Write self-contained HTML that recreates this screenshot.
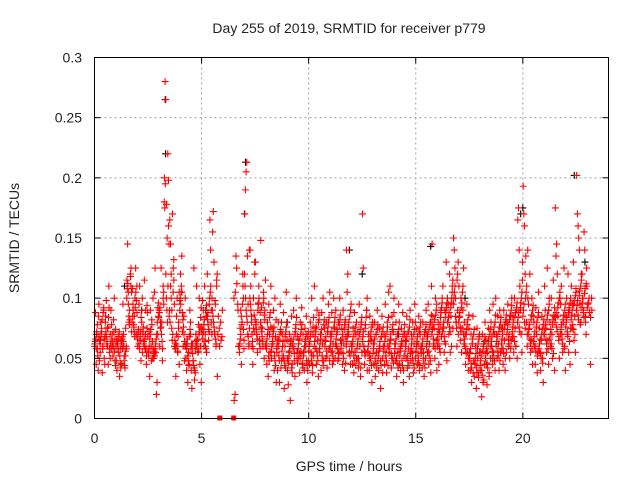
<!DOCTYPE html>
<html><head><meta charset="utf-8">
<style>
body{margin:0;background:#fff;}
svg{display:block;font-family:"Liberation Sans",sans-serif;}
</style></head>
<body>
<svg id="chart" width="640" height="480" viewBox="0 0 640 480">
<rect width="640" height="480" fill="#fff"/>
<text x="349" y="33" font-size="14" text-anchor="middle" fill="#222">Day 255 of 2019, SRMTID for receiver p779</text>
<text x="349" y="471" font-size="14" text-anchor="middle" fill="#222">GPS time / hours</text>
<text transform="translate(19,238) rotate(-90)" font-size="14" text-anchor="middle" fill="#222">SRMTID / TECUs</text>
<g id="grid"></g>
<g id="black"></g>
<g id="red"></g>
<rect x="94.5" y="57.5" width="514" height="361" fill="none" stroke="#000" stroke-width="1"/>
<g id="ticks"></g>
</svg>
<script>
const xTicks=[0,5,10,15,20];
const yTicks=[0,0.05,0.1,0.15,0.2,0.25,0.3];
const yTickLabels=["0","0.05","0.1","0.15","0.2","0.25","0.3"];
const binHours=0.25;
const redBins=[
[62,88,45,70,58,40,95,65],[55,80,72,38,60,90,50,68],[85,98,62,75,45,110,58,70],[90,78,60,52,82,100,66,74],
[48,40,62,55,70,35,58,65],[45,68,95,60,52,42,75,58],[115,145,105,80,90,120,110,72],[108,95,78,85,100,125,70,88],
[60,72,95,110,65,48,80,55],[70,62,115,58,90,45,75,68],[55,72,35,90,60,82,50,100],[50,105,125,55,20,30,70,85],
[90,60,75,125,80,48,110,95],[200,280,265,178,150,220,198,85],[165,145,120,90,170,105,132,60],[60,35,85,100,55,75,45,90],
[120,105,135,72,60,85,48,100],[50,40,62,30,55,45,90,70],[40,25,62,48,125,32,58,70],[110,65,55,78,100,45,60,30],
[75,98,90,60,110,70,85,55],[120,88,65,72,165,140,80,100],[155,172,130,70,95,60,110,35],[85,60,65,90],
[],[],[15,20,135,112,95,60],[55,75,90,45,80,120,100,65],
[170,190,205,213,135,95,62,75],[140,110,85,60,45,100,72,120],[130,80,70,55,95,110,65,88],[148,92,75,60,105,50,82,115],
[60,45,80,35,95,70,55,110],[50,75,62,90,40,100,68,30],[55,40,80,65,30,95,72,48],[70,50,88,25,60,42,105,65],
[40,28,55,70,15,62,85,45],[60,90,48,35,75,100,55,68],[50,65,38,80,55,92,45,70],[55,40,75,60,85,30,68,48],
[62,45,80,55,100,38,70,52],[110,75,58,45,90,65,35,82],[55,70,40,88,62,100,48,75],[65,50,80,42,72,95,58,105],
[70,55,88,45,62,100,75,50],[90,60,72,48,80,55,100,65],[55,75,45,90,62,40,80,68],[140,105,120,70,55,85,45,62],
[60,45,75,38,88,55,70,50],[50,72,42,95,60,35,80,55],[170,125,60,45,75,55,90,40],[55,70,40,85,50,65,30,78],
[62,45,80,35,70,55,90,48],[40,75,58,25,68,85,50,60],[70,45,95,55,38,80,60,105],[55,110,65,42,85,50,72,100],
[62,48,80,35,70,55,95,45],[58,40,75,62,88,30,52,70],[65,50,85,42,72,58,35,90],[48,70,55,80,38,62,95,50],
[55,75,45,62,85,40,70,58],[60,42,80,55,35,72,50,90],[70,55,95,45,62,80,38,110],[145,85,60,75,50,100,65,40],
[60,80,45,72,55,90,68,100],[110,75,55,90,62,130,48,80],[95,70,120,55,85,60,105,75],[150,140,125,100,80,60,90,70],
[110,85,65,100,55,75,90,125],[80,60,45,70,95,55,40,75],[55,40,70,30,62,85,48,35],[45,60,25,75,50,38,68,55],
[40,55,18,70,30,62,45,80],[65,45,28,55,75,35,90,50],[80,60,45,95,55,70,40,100],[70,50,85,62,40,90,55,75],
[58,75,45,90,65,40,80,55],[80,95,60,70,50,85,65,100],[68,85,55,100,75,60,90,50],[165,175,140,110,90,70,55,130],
[193,170,160,120,135,80,60,100],[95,75,120,55,65,100,45,85],[80,60,45,92,70,38,55,105],[75,55,40,65,85,50,30,70],
[110,90,75,55,125,65,45,100],[80,60,100,70,50,115,85,40],[175,135,145,120,85,65,50,100],[95,110,70,55,80,125,60,40],
[85,100,70,120,55,90,45,75],[110,75,95,130,65,85,55,105],[202,170,160,150,140,95,80,115],[120,100,90,155,140,85,70,110],
[95,100,45,90]
];
const redBins2=[
[60,64,66,58,72,78,52,85,68,48],[62,65,70,75,82,58,88,92,66,45],[80,72,68,64,60,76,84,92,55,50],[62,58,66,70,64,60,72,56,48,44],
[60,64,66,62,58,68,72,52,46,42],[62,66,58,64,70,48,44,52,56,60],[100,108,112,95,85,78,82,118,125,105],[80,85,90,76,72,68,92,105,98,110],
[66,70,74,62,58,68,72,84,90,100],[72,76,64,60,66,70,58,52,94,88],[56,52,60,66,70,74,48,78,64,58],[54,56,52,58,62,66,70,80,92,96],
[84,88,92,80,76,70,64,58,100,105],[180,175,195,120,100,90,80,110,160,145],[90,80,110,100,75,65,70,125,115,95],[65,58,62,70,60,56,68,80,105,98],
[100,95,110,105,88,82,76,70,64,60],[60,62,58,66,52,48,44,68,74,80],[58,62,60,54,48,44,42,40,38,64],[60,62,66,58,56,70,72,76,84,92],
[74,70,66,72,78,82,64,60,58,94],[85,82,78,74,95,100,105,110,90,70],[90,85,80,76,72,98,66,62,115,120],[70,75,80,68],
[],[],[100,105,125,90],[60,62,66,70,85,78,95,110,74,58],
[120,110,100,90,85,80,70,68,60,140],[100,95,90,80,70,64,58,75,86,130],[82,78,74,70,66,90,96,100,62,58],[80,76,72,68,64,96,100,86,90,60],
[62,58,66,70,74,52,48,84,88,76],[56,60,64,68,72,76,52,48,44,82],[58,62,66,60,52,48,70,74,42,80],[56,60,64,52,48,44,68,72,76,80],
[50,48,46,52,56,60,64,66,42,38],[62,66,58,54,70,72,78,84,50,46],[58,62,66,54,50,70,74,78,46,42],[52,56,60,64,66,70,48,44,40,72],
[56,60,64,68,72,48,52,44,76,84],[60,64,68,72,76,56,52,48,80,86],[58,62,66,70,74,52,48,44,78,82],[60,64,68,56,52,72,76,80,84,48],
[60,64,68,72,56,52,48,76,80,84],[62,66,70,74,58,54,50,78,82,86],[58,62,66,70,54,50,74,78,82,46],[60,64,68,72,76,80,56,52,90,95],
[56,60,64,68,52,48,72,76,44,80],[58,62,66,50,46,70,74,42,78,84],[64,68,72,60,56,52,78,84,90,100],[56,60,64,52,48,68,72,44,76,80],
[54,58,62,66,50,46,70,42,74,78],[52,56,60,64,48,44,68,72,38,76],[56,60,64,68,52,48,72,76,44,84],[58,62,66,70,54,50,74,78,46,88],
[54,58,62,66,50,46,70,42,74,80],[52,56,60,64,48,44,68,40,72,78],[56,60,64,68,52,48,72,44,76,82],[54,58,62,66,50,46,70,42,74,80],
[56,60,64,68,52,48,72,44,76,80],[54,58,62,66,50,46,70,42,74,78],[60,64,68,72,56,52,76,48,80,86],[70,74,78,66,62,82,58,86,90,95],
[66,70,74,62,58,78,84,88,92,96],[72,76,80,68,64,84,88,92,96,100],[80,84,88,76,72,92,96,100,110,115],[95,100,105,110,85,80,75,115,120,130],
[80,84,88,76,72,92,96,105,110,70],[62,66,70,58,54,74,78,82,50,86],[50,54,58,46,42,62,66,38,70,74],[46,50,54,42,38,58,62,34,66,70],
[44,48,52,40,36,56,60,32,64,68],[50,54,58,46,42,62,66,38,70,74],[60,64,68,56,52,72,76,48,80,86],[60,64,68,56,52,72,76,48,80,84],
[62,66,70,58,54,74,78,50,82,86],[70,74,78,66,62,82,86,58,90,94],[72,76,80,68,64,84,88,60,92,96],[80,84,88,76,72,92,96,100,105,115],
[85,90,95,80,75,100,105,110,70,140],[70,74,78,66,62,82,86,58,90,94],[64,68,72,60,56,76,80,52,84,88],[58,62,66,54,50,70,74,46,78,82],
[70,74,78,66,62,82,86,58,90,95],[66,70,74,62,58,78,82,54,86,92],[80,84,88,76,72,92,96,68,100,105],[70,74,78,66,62,82,86,58,90,95],
[76,80,84,72,68,88,92,64,96,100],[82,86,90,78,74,94,98,70,102,108],[90,94,98,86,82,102,106,78,110,120],[92,96,100,88,84,104,108,80,112,125],
[92,96,88,84,100]
];
const blackT=[3.3,3.32,7.05,7.0,22.4,20.0,19.9,15.7,11.9,2.2,0.1,9.0,12.5,17.3,5.2,1.4,14.2,18.6,21.2,22.9];
const blackY=[0.265,0.22,0.213,0.17,0.202,0.175,0.17,0.143,0.14,0.09,0.07,0.08,0.12,0.1,0.09,0.11,0.07,0.05,0.09,0.13];
const zeroT=[5.85,6.5];
const zeroY=[0,0];

const NS="http://www.w3.org/2000/svg";
const X0=94.5,X1=608.5,Y0=418.5,Y1=57.5,XMAX=24,YMAX=0.3;
function sx(t){return X0+(t/XMAX)*(X1-X0);}
function sy(v){return Y0-(v/YMAX)*(Y0-Y1);}
function mk(tag,attrs,parent){const e=document.createElementNS(NS,tag);for(const k in attrs)e.setAttribute(k,attrs[k]);parent.appendChild(e);return e;}
const grid=document.getElementById('grid'),ticks=document.getElementById('ticks');
xTicks.forEach((t,i)=>{
  const x=sx(t);
  if(t>0){const g=mk('line',{x1:x,x2:x,y1:Y1,y2:Y0,stroke:'#a0a0a0','stroke-dasharray':'2,3'},grid);
  
  }
  mk('line',{x1:x,x2:x,y1:Y0,y2:Y0-6,stroke:'#000'},ticks);
  mk('line',{x1:x,x2:x,y1:Y1,y2:Y1+6,stroke:'#000'},ticks);
  const l=mk('text',{x:x,y:443,'font-size':14,'text-anchor':'middle',fill:'#222'},ticks);
  l.textContent=String(t);
  
  
});
yTicks.forEach((v,i)=>{
  const y=sy(v);
  if(v>0&&v<YMAX){const g=mk('line',{x1:X0,x2:X1,y1:y,y2:y,stroke:'#a0a0a0','stroke-dasharray':'2,3'},grid);
  
  }
  mk('line',{x1:X0,x2:X0+6,y1:y,y2:y,stroke:'#000'},ticks);
  mk('line',{x1:X1,x2:X1-6,y1:y,y2:y,stroke:'#000'},ticks);
  const l=mk('text',{x:82,y:y+5,'font-size':14,'text-anchor':'end',fill:'#222'},ticks);
  l.textContent=yTickLabels[i];
  
  
});
function plus(x,y,color,parent){
  const d=`M${x-3.5},${y}H${x+3.5}M${x},${y-3.5}V${y+3.5}`;
  const p=mk('path',{d:d,stroke:color,'stroke-width':1.1,fill:'none'},parent);
  
  
}
const blackG=document.getElementById('black'),redG=document.getElementById('red');
blackT.forEach((t,i)=>plus(sx(t),sy(blackY[i]),'#000',blackG));
function drawBins(bins,offset){
  bins.forEach((bin,b)=>{
    bin.forEach((v,i)=>{
      const t=b*binHours+(i+offset)*binHours/bin.length;
      plus(sx(t),sy(v/1000),'#f00',redG);
    });
  });
}
drawBins(redBins,0.5);
drawBins(redBins2,0.2);
zeroT.forEach((t,i)=>{
  const r=mk('rect',{x:sx(t)-2.5,y:sy(zeroY[i])-3,width:5,height:5,fill:'#f00'},redG);
  
  
});
</script>
</body></html>
